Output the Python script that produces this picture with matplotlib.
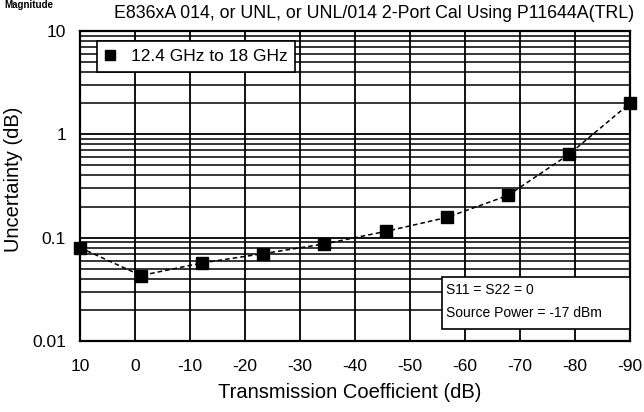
import numpy as np
import matplotlib
matplotlib.use("Agg")
import matplotlib.pyplot as plt
from matplotlib.ticker import LogLocator, FixedLocator, NullFormatter
from matplotlib.lines import Line2D
from matplotlib.patches import Rectangle

plt.rcParams['font.family'] = ['Liberation Sans', 'DejaVu Sans']

# data
trans_db = [10, -1.1, -12.2, -23.3, -34.4, -45.6, -56.7, -67.8, -78.9, -90]
uncert_db = [0.080, 0.043, 0.057, 0.070, 0.087, 0.115, 0.157, 0.256, 0.64, 2.0]
x_ticks = [10, 0, -10, -20, -30, -40, -50, -60, -70, -80, -90]
y_ticks = [0.01, 0.1, 1, 10]
y_labels = ['0.01', '0.1', '1', '10']
series_label = '12.4 GHz to 18 GHz'
cond_lines = ['S11 = S22 = 0', 'Source Power = -17 dBm']

fig = plt.figure(figsize=(6.44, 4.12), dpi=100)
ax = fig.add_axes([80/644, 1 - 341/412, 550/644, 310/412])

ax.set_yscale('log')
ax.set_ylim(0.01, 10)
ax.set_xlim(10, -90)

ax.plot(trans_db, uncert_db, color='black', lw=1.1, ls=(0, (3, 2)), zorder=3)
ax.plot(trans_db, uncert_db, ls='none', marker='s', ms=8.5, color='black',
        zorder=4, clip_on=False)

# grid
ax.xaxis.set_major_locator(FixedLocator(x_ticks))
ax.set_xticklabels([str(t) for t in x_ticks])
ax.yaxis.set_major_locator(FixedLocator(y_ticks))
ax.set_yticklabels(y_labels)
ax.yaxis.set_minor_locator(LogLocator(base=10, subs=np.arange(2, 10)))
ax.yaxis.set_minor_formatter(NullFormatter())
ax.grid(True, which='major', color='black', lw=1.3)
ax.grid(True, which='minor', axis='y', color='black', lw=1.1)
ax.tick_params(which='both', length=0, labelsize=12.5)
ax.tick_params(axis='x', pad=13)
ax.tick_params(axis='y', pad=10)
for s in ax.spines.values():
    s.set_linewidth(1.6)

ax.set_xlabel('Transmission Coefficient (dB)', fontsize=14.5)
ax.xaxis.set_label_coords(0.49, -0.135)
ax.set_ylabel('Uncertainty (dB)', fontsize=14.5)
ax.yaxis.set_label_coords(-0.103, 0.52)

fig.text(114/644, 1 - 14/412, 'E836xA 014, or UNL, or UNL/014 2-Port Cal Using P11644A(TRL)',
         fontsize=12.8, va='center', ha='left')
fig.text(4/644, 1.0, 'Magnitude', fontsize=7, fontweight='bold', va='top', ha='left')

# legend box
h = Line2D([], [], ls='none', marker='s', ms=7, color='black')
leg = ax.legend(handles=[h], labels=[series_label], loc='upper left',
                bbox_to_anchor=(0.031, 0.968), borderaxespad=0, fontsize=12.5,
                frameon=True, fancybox=False, edgecolor='black', framealpha=1,
                handlelength=0.6, handletextpad=0.9, borderpad=0.45)
leg.get_frame().set_linewidth(1.2)
leg.set_zorder(6)

# condition box
ax.add_patch(Rectangle((0.658, 0.039), 0.342, 0.167, transform=ax.transAxes,
                       fc='white', ec='black', lw=1.2, zorder=5, clip_on=False))
ax.text(0.666, 0.165, cond_lines[0], transform=ax.transAxes, ha='left',
        va='center', fontsize=10, zorder=6)
ax.text(0.666, 0.090, cond_lines[1], transform=ax.transAxes, ha='left',
        va='center', fontsize=10, zorder=6)

fig.savefig('out.png', dpi=100)
